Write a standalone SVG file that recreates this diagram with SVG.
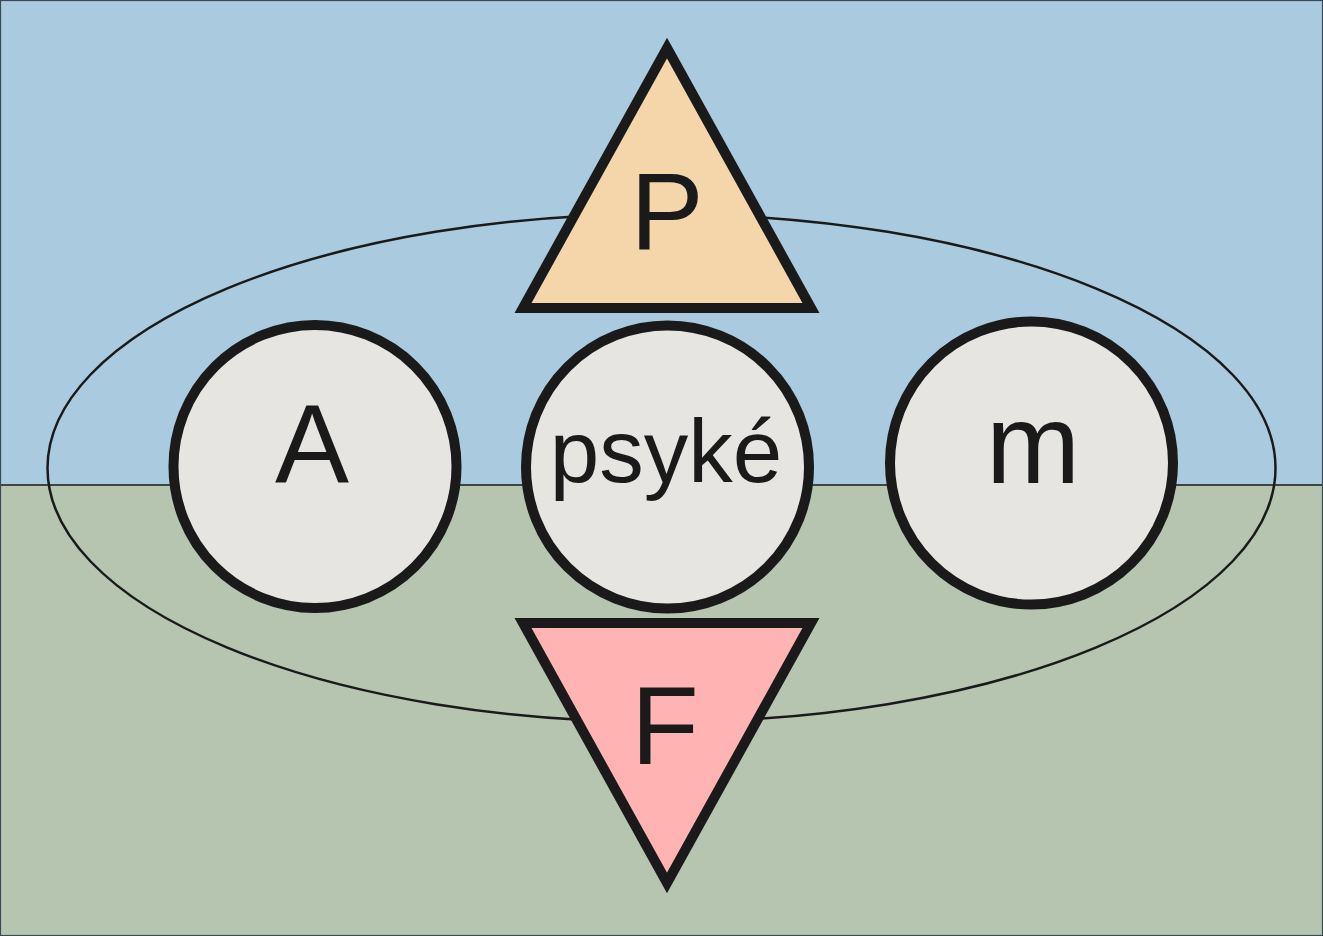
<svg xmlns="http://www.w3.org/2000/svg" width="1323" height="936" viewBox="0 0 1323 936">
<style>
.node{fill:#e6e5e1;stroke:#1a1a1a;stroke-width:10}
.lbl{font-family:"Liberation Sans",Arial,sans-serif;fill:#1a1a1a;text-anchor:middle}
.tri{stroke:#1a1a1a;stroke-width:10;stroke-linejoin:miter;stroke-miterlimit:10}
</style>
<g id="background">
<rect x="0" y="0" width="1323" height="485" fill="#a9cadf"/>
<rect x="0" y="485" width="1323" height="451" fill="#b5c5b0"/>
<line x1="0" y1="485" x2="1323" y2="485" stroke="#1a1a1a" stroke-width="1.3"/>
<rect x="0.5" y="0.5" width="1322" height="935" fill="none" stroke="#3a4a55" stroke-width="1.2"/>
</g>
<g id="connectors">
<ellipse cx="661.5" cy="468" rx="614" ry="254" fill="none" stroke="#1a1a1a" stroke-width="2.5"/>
</g>
<g id="node-A">
<circle class="node" cx="315" cy="466.5" r="141.5"/>
<text class="lbl" x="312" y="482" font-size="111">A</text>
</g>
<g id="node-psyke">
<circle class="node" cx="667.5" cy="467" r="141.5"/>
<text class="lbl" x="666" y="482" font-size="89">psyké</text>
</g>
<g id="node-m">
<circle class="node" cx="1031.5" cy="463" r="141.5"/>
<text class="lbl" x="1033" y="483" font-size="113">m</text>
</g>
<g id="node-P">
<path class="tri" d="M667,48 L811,308 L523,308 Z" fill="#f5d6ab"/>
<text class="lbl" x="667" y="249" font-size="110">P</text>
</g>
<g id="node-F">
<path class="tri" d="M523,623 L811,623 L667,883 Z" fill="#ffb3b3"/>
<text class="lbl" x="665" y="764" font-size="111">F</text>
</g>
</svg>
